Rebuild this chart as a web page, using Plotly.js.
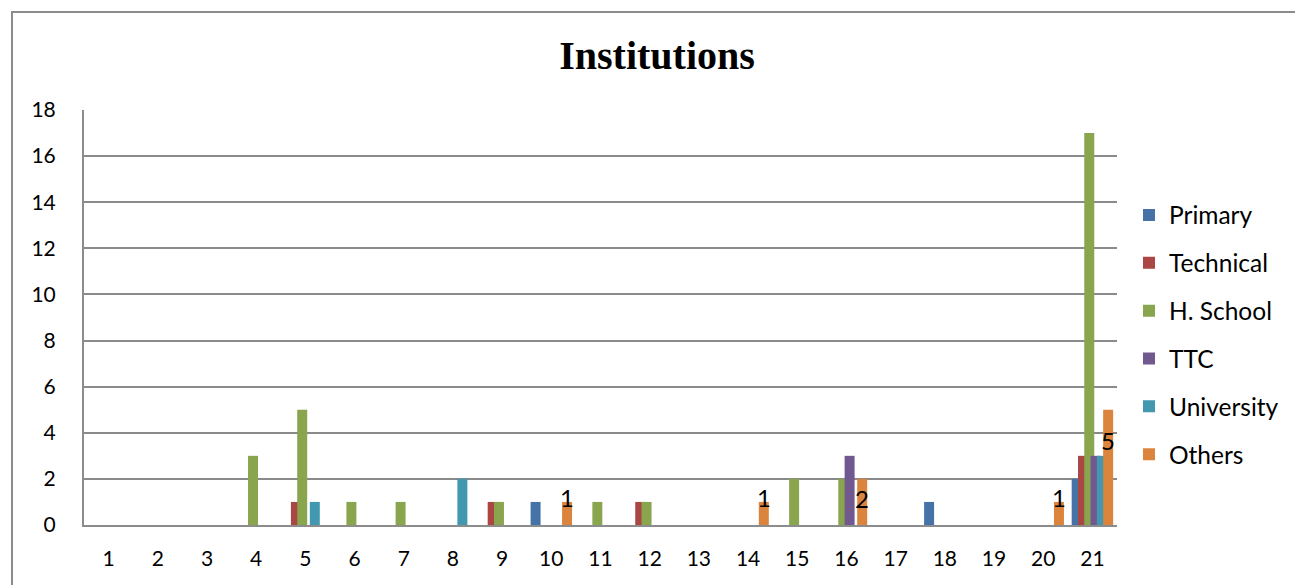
<!DOCTYPE html>
<html>
<head>
<meta charset="utf-8">
<script src="https://cdn.plot.ly/plotly-3.0.1.min.js"></script>
<style>
  html, body { margin: 0; padding: 0; background: #ffffff; }
  #wrap { position: relative; width: 1295px; height: 585px; overflow: hidden; }
  #chart { width: 1295px; height: 585px; }
  #frame { position: absolute; left: 11px; top: 11px; width: 1300px; height: 600px;
           border-left: 2px solid #8c8c8c; border-top: 2px solid #8c8c8c; pointer-events: none; }
</style>
</head>
<body>
<div id="wrap"><div id="chart"></div><div id="frame"></div></div>
<script>
// ---- data ----
const categories = ['1','2','3','4','5','6','7','8','9','10','11','12','13','14','15','16','17','18','19','20','21'];
const primary    = [0,0,0,0,0,0,0,0,0,1,0,0,0,0,0,0,0,1,0,0,2];
const technical  = [0,0,0,0,1,0,0,0,1,0,0,1,0,0,0,0,0,0,0,0,3];
const hSchool    = [0,0,0,3,5,1,1,0,1,0,1,1,0,0,2,2,0,0,0,0,17];
const ttc        = [0,0,0,0,0,0,0,0,0,0,0,0,0,0,0,3,0,0,0,0,3];
const university = [0,0,0,0,1,0,0,2,0,0,0,0,0,0,0,0,0,0,0,0,3];
const others     = [0,0,0,0,0,0,0,0,0,1,0,0,0,1,0,2,0,0,0,1,5];
const seriesNames = ['Primary','Technical','H. School','TTC','University','Others'];
const chartTitle = 'Institutions';

// ---- styles ----
const colors = ['#4572A7','#AA4643','#89A54E','#71588F','#4198AF','#DB843D'];
const seriesValues = [primary, technical, hSchool, ttc, university, others];
const barWidth = 0.203;
const step = 0.128;
const FONT = 'Lato, "Open Sans", sans-serif';
// label nudges (px) for the Others data labels, in order of the non-zero bars
const labelNudge = [4, 4, -20, 4, -31];

const traces = seriesValues.map((vals, i) => ({
  type: 'bar',
  name: seriesNames[i],
  x: categories,
  y: vals,
  width: barWidth,
  offset: (i - 2.5) * step - barWidth / 2,
  marker: { color: colors[i], line: { width: 0 } },
  legendgroup: 'g' + i,
  hoverinfo: 'x+y+name'
}));

const annotations = [];
let k = 0;
others.forEach((v, j) => {
  if (v > 0) {
    annotations.push({
      x: j, y: v, xref: 'x', yref: 'y',   // x = category index on the category axis
      text: String(v), showarrow: false,
      xshift: 16, yshift: labelNudge[k] || 0,
      yanchor: 'middle', xanchor: 'center',
      font: { family: FONT, size: 24, color: '#000000' }
    });
    k++;
  }
});

const layout = {
  width: 1295, height: 585,
  paper_bgcolor: '#ffffff', plot_bgcolor: '#ffffff',
  margin: { l: 84, r: 178, t: 110, b: 60, pad: 0 },
  barmode: 'overlay',
  title: {
    text: '<b>' + chartTitle + '</b>',
    font: { family: '"Liberation Serif", serif', size: 40, color: '#000000' },
    xref: 'container', x: 657 / 1295, xanchor: 'center',
    yref: 'container', y: 1 - 55 / 585, yanchor: 'middle'
  },
  xaxis: {
    type: 'category',
    range: [-0.5, categories.length - 0.5],
    showgrid: false, zeroline: false,
    showline: true, linecolor: '#8c8c8c', linewidth: 2,
    ticks: '', ticklabelstandoff: 14,
    tickfont: { family: FONT, size: 21, color: '#000000' },
    fixedrange: true
  },
  yaxis: {
    range: [0, 18], dtick: 2, tick0: 0,
    showgrid: true, gridcolor: '#8a8a8a', gridwidth: 2,
    zeroline: false,
    showline: true, linecolor: '#8c8c8c', linewidth: 2,
    ticks: '', ticklabelstandoff: 22,
    tickfont: { family: FONT, size: 21, color: '#000000' },
    fixedrange: true
  },
  legend: {
    xref: 'container', yref: 'container',
    x: 1129 / 1295, xanchor: 'left',
    y: 1 - 335 / 585, yanchor: 'middle',
    traceorder: 'grouped', tracegroupgap: 13,
    font: { family: FONT, size: 24.5, color: '#000000' },
    bgcolor: 'rgba(0,0,0,0)', borderwidth: 0
  },
  annotations: annotations,
  showlegend: true
};

Plotly.newPlot('chart', traces, layout, { displayModeBar: false, staticPlot: true });
</script>
</body>
</html>
